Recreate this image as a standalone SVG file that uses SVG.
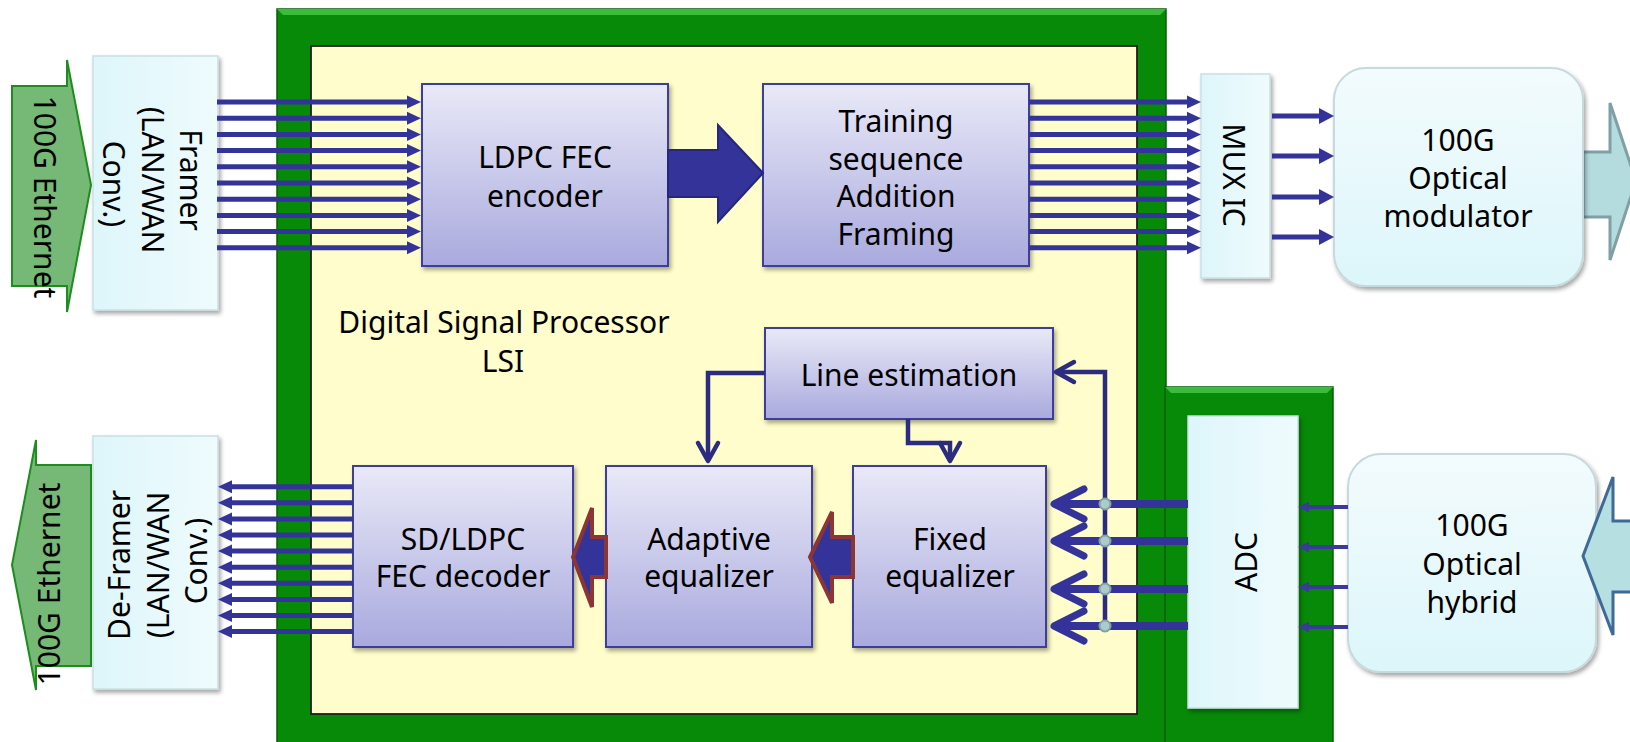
<svg xmlns="http://www.w3.org/2000/svg" width="1630" height="742" viewBox="0 0 1630 742">
  <defs>
    <style>
      .t { font-family: "Noto Sans", "Open Sans", "DejaVu Sans", sans-serif; font-size: 30px; fill: #000; text-anchor: middle; }
      .blk { fill: url(#gBlock); stroke: #3c3c9c; stroke-width: 2; filter: url(#shadow); }
      .lite { fill: url(#gLight); stroke: #c9dfe3; stroke-width: 1.5; filter: url(#shadow); }
      .rnd { fill: url(#gRound); stroke: #c6d9dd; stroke-width: 2; filter: url(#shadow); }
      .bus { fill: none; stroke: #333399; stroke-width: 5; }
      .wire { fill: none; stroke: #2b2b80; stroke-width: 4.5; stroke-linejoin: miter; }
      .thick { fill: none; stroke: #333399; stroke-width: 8; }
      .thin { fill: none; stroke: #3a3a9a; stroke-width: 4; }
      .node { fill: #abcccc; stroke: #83a0a0; stroke-width: 2; }
      .green { fill: #078a07; stroke: #055f05; stroke-width: 1.5; }
      .bevel { fill: #3cbc3c; }
      .eth { fill: #76b876; stroke: #1d8d1d; stroke-width: 2; }
      .redarrow { fill: #333399; stroke: #8b3535; stroke-width: 4; stroke-linejoin: miter; }
    </style>
    <linearGradient id="gBlock" x1="0" y1="0" x2="0" y2="1">
      <stop offset="0" stop-color="#e9e9f8"/>
      <stop offset="1" stop-color="#a9a9de"/>
    </linearGradient>
    <linearGradient id="gLight" x1="0" y1="0" x2="1" y2="0">
      <stop offset="0" stop-color="#ddf6fa"/>
      <stop offset="1" stop-color="#effbfd"/>
    </linearGradient>
    <linearGradient id="gRound" x1="0" y1="0" x2="0" y2="1">
      <stop offset="0" stop-color="#f3fbfd"/>
      <stop offset="1" stop-color="#dcf6fa"/>
    </linearGradient>
    <filter id="shadow" x="-10%" y="-10%" width="130%" height="130%">
      <feDropShadow dx="2" dy="3" stdDeviation="2" flood-color="#000" flood-opacity="0.35"/>
    </filter>
    <!-- filled arrowhead for the parallel buses -->
    <marker id="tri" markerUnits="userSpaceOnUse" viewBox="0 0 14 14" refX="0" refY="7" markerWidth="14" markerHeight="14" orient="auto">
      <path d="M0,0.5 L14,7 L0,13.5 z" fill="#333399"/>
    </marker>
    <marker id="triM" markerUnits="userSpaceOnUse" viewBox="0 0 15 16" refX="0" refY="8" markerWidth="15" markerHeight="16" orient="auto">
      <path d="M0,0 L15,8 L0,16 z" fill="#333399"/>
    </marker>
    <marker id="triS" markerUnits="userSpaceOnUse" viewBox="0 0 11 11" refX="0" refY="5.5" markerWidth="11" markerHeight="11" orient="auto">
      <path d="M0,0 L11,5.5 L0,11 z" fill="#3a3a9a"/>
    </marker>
    <!-- open chevron heads -->
    <marker id="chev" markerUnits="userSpaceOnUse" viewBox="-24 -14 28 28" refX="0" refY="0" markerWidth="28" markerHeight="28" orient="auto" overflow="visible">
      <path d="M-18,-10 L0,0 L-18,10" fill="none" stroke="#2b2b80" stroke-width="4.5" stroke-linejoin="round" stroke-linecap="round"/>
    </marker>
    <marker id="chevBig" markerUnits="userSpaceOnUse" viewBox="-40 -22 46 44" refX="0" refY="0" markerWidth="46" markerHeight="44" orient="auto" overflow="visible">
      <path d="M-30,-15 L0,0 L-30,15" fill="none" stroke="#333399" stroke-width="7" stroke-linejoin="round" stroke-linecap="round"/>
    </marker>
  </defs>

  <rect width="1630" height="742" fill="#ffffff"/>

  <!-- DSP LSI package -->
  <g id="dsp">
    <rect class="green" x="277" y="9" width="889" height="740"/>
    <polygon class="bevel" points="277,9 1166,9 1160,15 283,15"/>
    <rect x="311" y="46" width="826" height="668" fill="#fefdcb" stroke="#1e1e1e" stroke-width="1.8"/>
    <text class="t" x="504" y="333">Digital Signal Processor</text>
    <text class="t" x="503" y="372">LSI</text>
  </g>

  <!-- ADC package -->
  <g id="adc-package">
    <rect class="green" x="1165" y="387" width="168" height="362"/>
    <polygon class="bevel" points="1165,387 1333,387 1327,393 1171,393"/>
  </g>

  <!-- left Ethernet arrows -->
  <g id="eth-in">
    <polygon class="eth" points="12,86 67,86 67,60 91,185 67,312 67,286 12,286"/>
    <text class="t" transform="translate(34,197) rotate(90)">100G Ethernet</text>
  </g>
  <g id="eth-out">
    <polygon class="eth" points="91,465 36,465 36,440 12,565 36,690 36,666 91,666"/>
    <text class="t" transform="translate(60,584) rotate(-90)">100G Ethernet</text>
  </g>

  <!-- Framer / De-Framer -->
  <g id="framer">
    <rect class="lite" x="93" y="56" width="125" height="254"/>
    <text class="t" transform="translate(180,184) rotate(90)">
      <tspan x="0" dy="0">Framer</tspan>
      <tspan x="0" dy="38.5">(LAN/WAN</tspan>
      <tspan x="0" dy="38.5">Conv.)</tspan>
    </text>
  </g>
  <g id="deframer">
    <rect class="lite" x="93" y="436" width="125" height="253"/>
    <text class="t" transform="translate(130,561) rotate(-90)">
      <tspan x="0" dy="0">De-Framer</tspan>
      <tspan x="0" dy="38.5">(LAN/WAN</tspan>
      <tspan x="0" dy="38.5">Conv.)</tspan>
    </text>
  </g>

  <!-- transmit chain -->
  <g id="ldpc-encoder">
    <rect class="blk" x="422" y="84" width="246" height="182"/>
    <text class="t" x="545" y="168">LDPC FEC</text>
    <text class="t" x="545" y="207">encoder</text>
  </g>
  <g id="training">
    <rect class="blk" x="763" y="84" width="266" height="182"/>
    <text class="t" x="896" y="132">Training</text>
    <text class="t" x="896" y="170">sequence</text>
    <text class="t" x="896" y="207">Addition</text>
    <text class="t" x="896" y="245">Framing</text>
  </g>
  <g id="mux">
    <rect class="lite" x="1201" y="74" width="69" height="204"/>
    <text class="t" transform="translate(1223,175) rotate(90)">MUX IC</text>
  </g>

  <!-- receive chain -->
  <g id="line-estimation">
    <rect class="blk" x="765" y="328" width="288" height="91"/>
    <text class="t" x="909" y="386">Line estimation</text>
  </g>
  <g id="sd-ldpc-decoder">
    <rect class="blk" x="353" y="466" width="220" height="181"/>
    <text class="t" x="463" y="550">SD/LDPC</text>
    <text class="t" x="463" y="587">FEC decoder</text>
  </g>
  <g id="adaptive-eq">
    <rect class="blk" x="606" y="466" width="206" height="181"/>
    <text class="t" x="709" y="550">Adaptive</text>
    <text class="t" x="709" y="587">equalizer</text>
  </g>
  <g id="fixed-eq">
    <rect class="blk" x="853" y="466" width="193" height="181"/>
    <text class="t" x="950" y="550">Fixed</text>
    <text class="t" x="950" y="587">equalizer</text>
  </g>
  <g id="adc">
    <rect class="lite" x="1188" y="416" width="110" height="292"/>
    <text class="t" transform="translate(1257,562) rotate(-90)">ADC</text>
  </g>

  <!-- optical front end -->
  <g id="optical-out">
    <polygon points="1583,152 1610,152 1610,103 1636,181 1610,260 1610,217 1583,217" fill="#b4dcdf" stroke="#7fa0a5" stroke-width="3"/>
  </g>
  <g id="modulator">
    <rect class="rnd" x="1334" y="68" width="249" height="218" rx="32"/>
    <text class="t" x="1458" y="151">100G</text>
    <text class="t" x="1458" y="189">Optical</text>
    <text class="t" x="1458" y="227">modulator</text>
  </g>
  <g id="hybrid">
    <rect class="rnd" x="1348" y="454" width="248" height="218" rx="33"/>
    <text class="t" x="1472" y="536">100G</text>
    <text class="t" x="1472" y="575">Optical</text>
    <text class="t" x="1472" y="613">hybrid</text>
  </g>
  <g id="optical-in">
    <polygon points="1640,521 1613,521 1613,477 1583,556 1613,635 1613,592 1640,592" fill="#b6dfe2" stroke="#3f6a95" stroke-width="3"/>
  </g>

  <!-- connectors -->
  <g id="connectors">
    <!-- framer to encoder bus -->
    <path class="bus" marker-end="url(#tri)" d="M217,102H407"/>
    <path class="bus" marker-end="url(#tri)" d="M217,118.2H407"/>
    <path class="bus" marker-end="url(#tri)" d="M217,134.4H407"/>
    <path class="bus" marker-end="url(#tri)" d="M217,150.6H407"/>
    <path class="bus" marker-end="url(#tri)" d="M217,166.8H407"/>
    <path class="bus" marker-end="url(#tri)" d="M217,183H407"/>
    <path class="bus" marker-end="url(#tri)" d="M217,199.2H407"/>
    <path class="bus" marker-end="url(#tri)" d="M217,215.4H407"/>
    <path class="bus" marker-end="url(#tri)" d="M217,231.6H407"/>
    <path class="bus" marker-end="url(#tri)" d="M217,247.8H407"/>
    <!-- encoder to framing -->
    <polygon points="668,150 718,150 718,125 763,173 718,222 718,197 668,197" fill="#333399" stroke="#26267a" stroke-width="2"/>
    <!-- framing to MUX bus -->
    <path class="bus" marker-end="url(#tri)" d="M1029,102H1187"/>
    <path class="bus" marker-end="url(#tri)" d="M1029,118.2H1187"/>
    <path class="bus" marker-end="url(#tri)" d="M1029,134.4H1187"/>
    <path class="bus" marker-end="url(#tri)" d="M1029,150.6H1187"/>
    <path class="bus" marker-end="url(#tri)" d="M1029,166.8H1187"/>
    <path class="bus" marker-end="url(#tri)" d="M1029,183H1187"/>
    <path class="bus" marker-end="url(#tri)" d="M1029,199.2H1187"/>
    <path class="bus" marker-end="url(#tri)" d="M1029,215.4H1187"/>
    <path class="bus" marker-end="url(#tri)" d="M1029,231.6H1187"/>
    <path class="bus" marker-end="url(#tri)" d="M1029,247.8H1187"/>
    <!-- MUX to modulator -->
    <path class="bus" marker-end="url(#triM)" d="M1272,116H1319"/>
    <path class="bus" marker-end="url(#triM)" d="M1272,156H1319"/>
    <path class="bus" marker-end="url(#triM)" d="M1272,197H1319"/>
    <path class="bus" marker-end="url(#triM)" d="M1272,237H1319"/>
    <!-- hybrid to ADC -->
    <path class="thin" marker-end="url(#triS)" d="M1348,507H1309"/>
    <path class="thin" marker-end="url(#triS)" d="M1348,547H1309"/>
    <path class="thin" marker-end="url(#triS)" d="M1348,587H1309"/>
    <path class="thin" marker-end="url(#triS)" d="M1348,627H1309"/>
    <!-- ADC to fixed equalizer -->
    <path class="thick" marker-end="url(#chevBig)" d="M1188,504H1054"/>
    <path class="thick" marker-end="url(#chevBig)" d="M1188,541H1054"/>
    <path class="thick" marker-end="url(#chevBig)" d="M1188,589H1054"/>
    <path class="thick" marker-end="url(#chevBig)" d="M1188,626H1054"/>
    <!-- tap to line estimation -->
    <path class="wire" marker-end="url(#chev)" d="M1105,626V372H1056"/>
    <circle class="node" cx="1105" cy="504" r="5.5"/>
    <circle class="node" cx="1105" cy="541" r="5.5"/>
    <circle class="node" cx="1105" cy="589" r="5.5"/>
    <circle class="node" cx="1105" cy="626" r="5.5"/>
    <!-- line estimation to equalizers -->
    <path class="wire" marker-end="url(#chev)" d="M765,373H708V461"/>
    <path class="wire" marker-end="url(#chev)" d="M908,419V443H950V461"/>
    <!-- equalizer chain -->
    <polygon class="redarrow" points="853,537 832,537 832,512 810,557 832,603 832,577 853,577"/>
    <polygon class="redarrow" points="606,537 592,537 592,508 573,557 592,607 592,577 606,577"/>
    <!-- decoder to de-framer bus -->
    <path class="bus" marker-end="url(#tri)" d="M353,486.7H232"/>
    <path class="bus" marker-end="url(#tri)" d="M353,502.8H232"/>
    <path class="bus" marker-end="url(#tri)" d="M353,518.9H232"/>
    <path class="bus" marker-end="url(#tri)" d="M353,535H232"/>
    <path class="bus" marker-end="url(#tri)" d="M353,551.1H232"/>
    <path class="bus" marker-end="url(#tri)" d="M353,567.2H232"/>
    <path class="bus" marker-end="url(#tri)" d="M353,583.3H232"/>
    <path class="bus" marker-end="url(#tri)" d="M353,599.4H232"/>
    <path class="bus" marker-end="url(#tri)" d="M353,615.5H232"/>
    <path class="bus" marker-end="url(#tri)" d="M353,631.6H232"/>
  </g>
</svg>
